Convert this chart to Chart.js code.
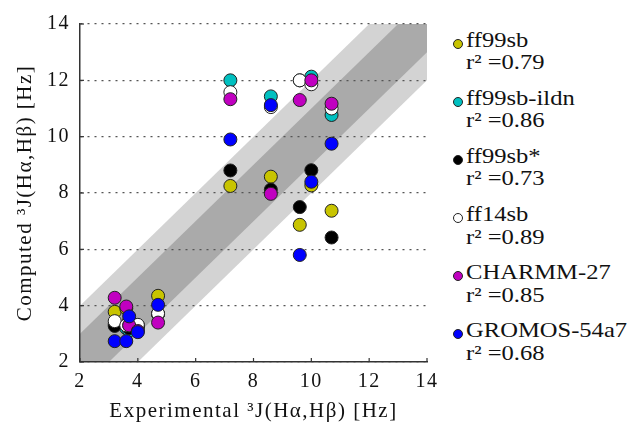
<!DOCTYPE html>
<html><head><meta charset="utf-8">
<script src="https://cdn.jsdelivr.net/npm/chart.js@4"></script>
<style>
html,body{margin:0;padding:0;background:#fff;width:632px;height:423px;overflow:hidden;font-family:"Liberation Serif",serif;}
#wrap{position:absolute;left:0;top:0;width:445px;height:423px;}
#legend{position:absolute;left:453px;top:29px;font-size:21px;line-height:22.3px;color:#111;}
.item{position:relative;padding-left:13px;height:58.1px;white-space:nowrap;}
.txt{display:inline-block;transform:scaleX(1.17);transform-origin:0 0;}
.dot{position:absolute;left:0;top:10px;width:8px;height:8px;border-radius:50%;border:1px solid #222;}
</style></head>
<body>
<div id="wrap"><canvas id="c" width="445" height="423"></canvas></div>
<div id="legend"></div>
<script>
// Experimental 3J values (x) for each residue
const experimental = [3.2, 3.6, 3.7, 4.0, 4.7, 7.2, 8.6, 9.6, 10.0, 10.7];
// Computed 3J values (y) per force field
const ff99sb     = [3.78, 3.90, 3.45, 3.25, 4.35, 8.25, 8.58, 6.87, 8.27, 7.37];
const ff99sbIldn = [3.35, 3.20, 3.12, 3.20, 3.70, 12.00, 11.43, 12.00, 12.13, 10.77];
const ff99sbStar = [3.28, 3.30, 3.20, 3.30, 3.70, 8.80, 8.12, 7.50, 8.81, 6.42];
const ff14sb     = [3.45, 3.30, 3.30, 3.32, 3.72, 11.58, 11.05, 12.00, 11.86, 11.00];
const charmm27   = [4.28, 3.97, 3.30, 3.10, 3.40, 11.33, 7.97, 11.30, 12.00, 11.17];
const gromos     = [2.74, 2.74, 3.62, 3.06, 4.03, 9.90, 11.12, 5.80, 8.40, 9.75];

const seriesNames = ['ff99sb', 'ff99sb-ildn', 'ff99sb*', 'ff14sb', 'CHARMM-27', 'GROMOS-54a7'];
const r2Values = ['0.79', '0.86', '0.73', '0.89', '0.85', '0.68'];
const seriesColors = ['#c8c400', '#00c0c0', '#000000', '#ffffff', '#c000c0', '#0000ff'];
const axisTicks = [2, 4, 6, 8, 10, 12, 14];
const bandHalfWidths = [2, 1];
const bandColors = ['#d3d3d3', '#aaaaaa'];

const allSeries = [ff99sb, ff99sbIldn, ff99sbStar, ff14sb, charmm27, gromos];
const FONT = 'Liberation Serif';

const datasets = allSeries.map((vals, i) => ({
  label: seriesNames[i],
  data: vals.map((v, k) => ({x: experimental[k], y: v})),
  backgroundColor: seriesColors[i],
  borderColor: '#222',
  borderWidth: 1,
  pointRadius: 6.5,
  pointHoverRadius: 6.5,
  order: allSeries.length - i
}));

const bandPlugin = {
  id: 'bands',
  beforeDraw(chart) {
    const {ctx, chartArea: a, scales: {x, y}} = chart;
    ctx.letterSpacing = '1.5px';
    const x0 = axisTicks[0], x1 = axisTicks[axisTicks.length - 1];
    ctx.save();
    ctx.beginPath();
    ctx.rect(a.left, a.top, a.right - a.left, a.bottom - a.top);
    ctx.clip();
    bandHalfWidths.forEach((d, i) => {
      ctx.fillStyle = bandColors[i];
      ctx.beginPath();
      ctx.moveTo(x.getPixelForValue(x0), y.getPixelForValue(x0 - d));
      ctx.lineTo(x.getPixelForValue(x1), y.getPixelForValue(x1 - d));
      ctx.lineTo(x.getPixelForValue(x1), y.getPixelForValue(x1 + d));
      ctx.lineTo(x.getPixelForValue(x0), y.getPixelForValue(x0 + d));
      ctx.closePath();
      ctx.fill();
    });
    ctx.restore();
  }
};

const inwardTicks = {
  id: 'inwardTicks',
  afterDraw(chart) {
    const {ctx, chartArea: a, scales: {x, y}} = chart;
    ctx.save();
    ctx.strokeStyle = '#333';
    ctx.lineWidth = 1.2;
    x.ticks.forEach(t => {
      const px = x.getPixelForValue(t.value);
      ctx.beginPath(); ctx.moveTo(px, a.bottom); ctx.lineTo(px, a.bottom - 4); ctx.stroke();
    });
    y.ticks.forEach(t => {
      const py = y.getPixelForValue(t.value);
      ctx.beginPath(); ctx.moveTo(a.left, py); ctx.lineTo(a.left + 4, py); ctx.stroke();
    });
    ctx.restore();
  }
};

new Chart(document.getElementById('c'), {
  type: 'scatter',
  data: {datasets},
  plugins: [bandPlugin, inwardTicks],
  options: {
    responsive: false,
    animation: false,
    events: [],
    layout: {padding: {top: 24, right: 0, left: 0, bottom: 0}},
    plugins: {legend: {display: false}, tooltip: {enabled: false}},
    scales: {
      x: {
        type: 'linear', min: 2, max: 14,
        afterBuildTicks(s) { s.ticks = axisTicks.map(v => ({value: v})); },
        ticks: {color: '#111', font: {family: FONT, size: 20}, padding: 8},
        grid: {drawOnChartArea: false, drawTicks: false},
        border: {color: '#333', width: 1.5},
        title: {display: true, text: 'Experimental \u00B3J(H\u03B1,H\u03B2) [Hz]', color: '#111',
                font: {family: FONT, size: 21}, padding: {top: 0, bottom: -1}},
        afterFit(s) { s.height = 61; }
      },
      y: {
        type: 'linear', min: 2, max: 14,
        afterBuildTicks(s) { s.ticks = axisTicks.map(v => ({value: v})); },
        ticks: {color: '#111', font: {family: FONT, size: 20}, padding: 10},
        grid: {drawTicks: false, color: '#555', lineWidth: 1.2},
        border: {color: '#333', width: 1.5, dash: [2, 5]},
        title: {display: true, text: 'Computed \u00B3J(H\u03B1,H\u03B2) [Hz]', color: '#111',
                font: {family: FONT, size: 21}, padding: {top: 13, bottom: 0}},
        afterFit(s) { s.width = 80; }
      }
    }
  }
});

const leg = document.getElementById('legend');
seriesNames.forEach((n, i) => {
  const d = document.createElement('div');
  d.className = 'item';
  d.innerHTML = '<span class="dot" style="background:' + seriesColors[i] + '"></span>' +
    '<span class="txt">' + n + '<br>r\u00B2 =' + r2Values[i] + '</span>';
  leg.appendChild(d);
});
</script>
</body></html>
